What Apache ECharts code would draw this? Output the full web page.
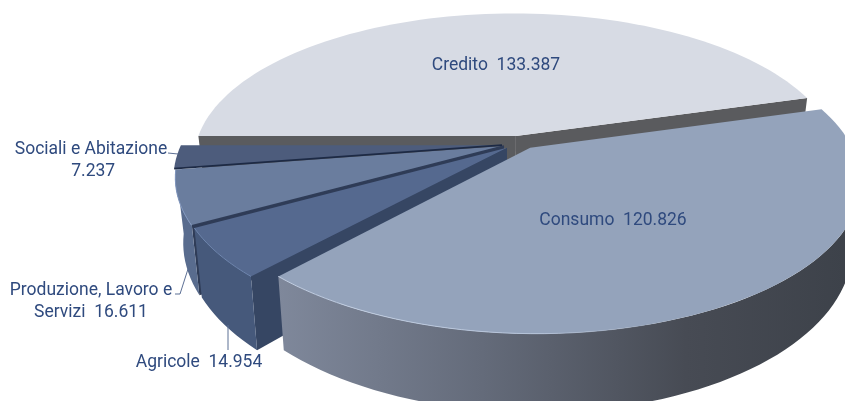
<!DOCTYPE html>
<html>
<head>
<meta charset="utf-8">
<style>
  html, body { margin: 0; padding: 0; background: #fff; }
  #chart { width: 845px; height: 401px; }
</style>
<script src="https://cdn.jsdelivr.net/npm/echarts@6/dist/echarts.min.js"></script>
</head>
<body>
<div id="chart"></div>
<script>
// slices, in the order they go round the pie
const categories = ['Credito', 'Consumo', 'Agricole', 'Produzione, Lavoro e\nServizi ', 'Sociali e Abitazione\n']
const values = [133.387, 120.826, 14.954, 16.611, 7.237]

// the pie starts on the left and goes clockwise over the back
const startAngle = 180
const radius = 330
const tilt = 0.44
const camera = 1600
const depth = 62
const bottomScale = 0.976
const centerX = 505
const centerY = 143

const total = values.reduce((a, b) => a + b, 0)

// style of each slice, same order as categories
const slices = [
  { z: 1, top: '#d7dbe4', wall: '#5a5b5e', side: '#5a5b5e', off: [11, -16], sx: 0.97, cam: 1980, label: [496, 66] },
  { z: 5, top: '#94a3bb', off: [25, 11], sx: 0.97, label: [613, 221],
    rim: { type: 'linear', x: 0, y: 0, x2: 1, y2: 0, colorStops: [
      { offset: 0, color: '#c3cfe2' },
      { offset: 0.45, color: '#b4c2d8' },
      { offset: 0.7, color: 'rgba(148,163,187,0)' },
      { offset: 1, color: 'rgba(148,163,187,0)' }
    ] },
    side: { type: 'linear', x: 0, y: 0, x2: 1, y2: 0, colorStops: [
      { offset: 0, color: '#7f889b' },
      { offset: 0.35, color: '#646b7a' },
      { offset: 0.7, color: '#474b54' },
      { offset: 1, color: '#3c4149' }
    ] }, wall: '#3c4149' },
  { z: 4, top: '#55698f', rim: '#6f86ae', side: '#46597b', wall: '#364663', off: [2, 11], sx: 0.97, label: [199, 363],
    leader: [[228, 325], [228, 350]] },
  { z: 3, top: '#6a7d9e', rim: '#7f95bd', side: '#596c8e', wall: '#2f3c57', off: [-1, 7], sx: 0.97, label: [91, 302],
    leader: [[175, 294], [180, 294], [188, 269]] },
  // this one sits behind its neighbour, no walls of its own show
  { z: 2, top: '#4d5c7c', wall: '#1d2a45', flat: true, off: [-3, 5], sx: 0.97, label: [91, 161],
    leader: [[168, 153], [178, 154]] }
]

function project(s, angle, r, h) {
  const a = angle * Math.PI / 180
  const gx = r * Math.cos(a) * s.sx + s.off[0]
  const gz = r * Math.sin(a) + s.off[1]
  const cam = s.cam || camera
  const k = cam / (cam - gz)
  let x = gx * k
  let y = gz * tilt * k
  if (h) {
    x = x * bottomScale
    y = y + depth * k
  }
  return [centerX + x, centerY + y]
}

function arc(s, from, to, h) {
  const pts = []
  const n = Math.max(2, Math.ceil(Math.abs(to - from) / 2))
  for (let i = 0; i <= n; i++) {
    pts.push(project(s, from + (to - from) * i / n, radius, h))
  }
  return pts
}

function radialWall(s, angle, z2) {
  return {
    type: 'polygon',
    z2: z2,
    shape: { points: [project(s, 0, 0, 0), project(s, angle, radius, 0), project(s, angle, radius, 1), project(s, 0, 0, 1)] },
    style: { fill: s.wall }
  }
}

function renderSlice(params, api) {
  const i = params.dataIndex
  const s = slices[i]
  let from = startAngle
  for (let j = 0; j < i; j++) from += values[j] / total * 360
  const to = from + api.value(1) / total * 360
  const z = s.z * 10
  const children = []

  // cut faces, only when they turn towards the viewer
  if (!s.flat && Math.cos(from * Math.PI / 180) < 0) children.push(radialWall(s, from, z))
  if (!s.flat && Math.cos(to * Math.PI / 180) > 0) children.push(radialWall(s, to, z))

  // outer wall, only the part turned towards the viewer (360 to 540 is the front half)
  const visFrom = Math.max(from, 360)
  const visTo = Math.min(to, 540)
  if (!s.flat && visFrom < visTo) {
    children.push({
      type: 'polygon',
      z2: z + 1,
      shape: { points: arc(s, visFrom, visTo, 0).concat(arc(s, visFrom, visTo, 1).reverse()) },
      style: { fill: s.side }
    })
  }

  children.push({
    type: 'polygon',
    z2: z + 2,
    shape: { points: [project(s, 0, 0, 0)].concat(arc(s, from, to, 0)) },
    style: { fill: s.top }
  })

  if (s.rim && visFrom < visTo) {
    children.push({
      type: 'polyline',
      z2: z + 3,
      shape: { points: arc(s, visFrom, visTo, 0) },
      style: { stroke: s.rim, lineWidth: 1, fill: null }
    })
  }

  // dark seam along the edge towards the next slice
  if (i >= 3) {
    const a = project(s, 0, 0, 0)
    const b = project(s, from, radius, 0)
    children.push({
      type: 'line',
      z2: 70,
      shape: { x1: a[0], y1: a[1], x2: b[0], y2: b[1] },
      style: { stroke: s.wall, lineWidth: 1.8 }
    })
  }

  if (s.leader) {
    children.push({
      type: 'polyline',
      z2: 90,
      shape: { points: s.leader },
      style: { stroke: '#5d7095', lineWidth: 1, fill: null }
    })
  }

  children.push({
    type: 'text',
    z2: 100,
    x: s.label[0],
    y: s.label[1],
    style: {
      text: categories[i] + (i < 3 ? '  ' : ' ') + api.value(1).toFixed(3),
      fill: '#2f4a7e',
      font: '17.5px Roboto',
      lineHeight: 22,
      align: 'center',
      verticalAlign: 'middle'
    }
  })

  return { type: 'group', children: children }
}

const chart = echarts.init(document.getElementById('chart'), null, { renderer: 'canvas' })
chart.setOption({
  animation: false,
  backgroundColor: '#fff',
  series: [{
    type: 'custom',
    coordinateSystem: 'none',
    clip: false,
    data: values.map((v, i) => [i, v]),
    renderItem: renderSlice
  }]
})
</script>
</body>
</html>
